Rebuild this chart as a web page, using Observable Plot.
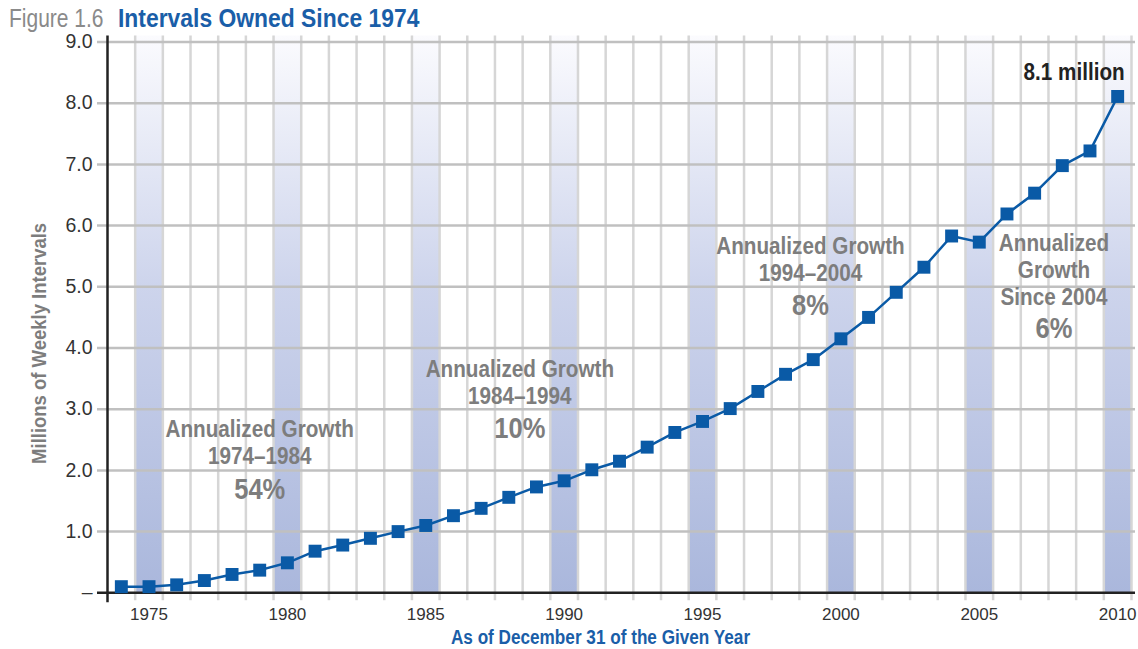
<!DOCTYPE html>
<html>
<head>
<meta charset="utf-8">
<script src="https://cdn.jsdelivr.net/npm/d3@7"></script>
<script src="https://cdn.jsdelivr.net/npm/@observablehq/plot@0.6"></script>
<style>
  body { margin: 0; background: #fff; }
  #title { height: 32px; position: relative; font-family: "Liberation Sans", Arial, sans-serif; white-space: nowrap; }
  #title span { position: absolute; line-height: 1; transform-origin: 0 0; }
  #title .fig { left: 9px; top: 6px; font-size: 25px; color: #8a8a8a; transform: scaleX(0.84); }
  #title .main { left: 118px; top: 5px; font-size: 26px; font-weight: bold; color: #1a5ea8; transform: scaleX(0.88); }
  #chart svg { display: block; }
</style>
</head>
<body>
<div id="title"><span class="fig">Figure 1.6</span><span class="main">Intervals Owned Since 1974</span></div>
<div id="chart"></div>
<script>
// ---- data ----
const years = [1974,1975,1976,1977,1978,1979,1980,1981,1982,1983,1984,1985,1986,1987,1988,1989,1990,1991,1992,1993,1994,1995,1996,1997,1998,1999,2000,2001,2002,2003,2004,2005,2006,2007,2008,2009,2010];
const intervals = [0.10,0.10,0.13,0.20,0.30,0.37,0.49,0.68,0.78,0.89,1.00,1.10,1.26,1.38,1.56,1.73,1.83,2.01,2.15,2.38,2.62,2.80,3.01,3.29,3.57,3.81,4.15,4.50,4.91,5.32,5.83,5.73,6.19,6.53,6.98,7.22,8.11];
const highlightYears = [1975,1980,1985,1990,1995,2000,2005,2010];
const xTicks = [1975,1980,1985,1990,1995,2000,2005,2010];
const yTicks = [0,1,2,3,4,5,6,7,8,9];
const annHeads = ["Annualized Growth\n1974–1984", "Annualized Growth\n1984–1994", "Annualized Growth\n1994–2004", "Annualized\nGrowth\nSince 2004"];
const annRates = ["54%", "10%", "8%", "6%"];
const annYear = [1979.0, 1988.4, 1998.9, 2007.7];
const annHeadValue = [2.46, 3.45, 5.45, 5.29];
const annRateValue = [1.69, 2.685, 4.69, 4.32];
const endLabel = "8.1 million";
const xTitle = "As of December 31 of the Given Year";
const yTitle = "Millions of Weekly Intervals";

// ---- tables built from the arrays ----
const series = years.map((y, i) => ({year: y, value: intervals[i]}));
const bands = highlightYears.map(y => ({x1: y - 0.5, x2: y + 0.5}));
const boundaries = years.map(y => y + 0.5);
const annotations = annHeads.map((t, i) => ({x: annYear[i], y: annHeadValue[i], text: t}));
const rates = annRates.map((t, i) => ({x: annYear[i], y: annRateValue[i], text: t}));

const FONT = '"Liberation Sans", Arial, sans-serif';
const BLUE = "#0a5aa6";
const GRAY_TXT = "#7d7d7d";

const gradientDefs = () => {
  const defs = d3.create("svg:defs");
  const g = defs.append("linearGradient").attr("id", "bandGrad")
    .attr("x1", 0).attr("y1", 0).attr("x2", 0).attr("y2", 1);
  g.append("stop").attr("offset", "0%").attr("stop-color", "#fbfbfe");
  g.append("stop").attr("offset", "45%").attr("stop-color", "#cdd4ec");
  g.append("stop").attr("offset", "100%").attr("stop-color", "#aab7dc");
  return defs.node();
};

const chart = Plot.plot({
  width: 1138,
  height: 617,
  marginTop: 9.5,
  marginLeft: 107,
  marginRight: 7,
  marginBottom: 56.7,
  style: {fontFamily: FONT, background: "#fff", overflow: "visible"},
  x: {type: "linear", domain: [1973.5, 2010.5]},
  y: {domain: [0, 9]},
  marks: [
    gradientDefs,
    Plot.rect(bands, {x1: "x1", x2: "x2", y1: 0, y2: 9, fill: "url(#bandGrad)", insetTop: -6}),
    Plot.ruleX(boundaries, {stroke: "#d6d6d6", strokeWidth: 2.5, insetTop: -6, insetBottom: -8}),
    Plot.ruleY(yTicks.filter(d => d > 0), {stroke: "#c0c0c0", strokeWidth: 2.5, insetLeft: -10, insetRight: -4}),
    Plot.ruleY([0], {stroke: "#222", strokeWidth: 2.5, insetLeft: -10, insetRight: -4}),
    Plot.ruleX([1973.5], {stroke: "#222", strokeWidth: 2.5, insetTop: -6, insetBottom: -10}),
    Plot.axisY({ticks: yTicks, tickSize: 0, tickPadding: 15, label: null, fontSize: 19.5, fill: "#333",
      tickFormat: d => d === 0 ? "–" : d.toFixed(1)}),
    Plot.axisX({ticks: xTicks, tickSize: 0, tickPadding: 15, label: null, fontSize: 17, fill: "#333",
      tickFormat: d => String(d)}),
    Plot.text(annotations, {x: "x", y: "y", text: "text", fill: GRAY_TXT, fontSize: 23.5, fontWeight: "bold", lineHeight: 1.15, textAnchor: "middle", lineAnchor: "middle"}),
    Plot.text(rates, {x: "x", y: "y", text: "text", fill: GRAY_TXT, fontSize: 29, fontWeight: "bold", textAnchor: "middle", lineAnchor: "middle"}),
    Plot.line(series, {x: "year", y: "value", stroke: BLUE, strokeWidth: 2.5}),
    Plot.dot(series, {x: "year", y: "value", symbol: "square", r: 7.3, fill: BLUE, stroke: "none"}),
    Plot.text([series[series.length - 1]], {x: "year", y: "value", text: () => endLabel, textAnchor: "end", lineAnchor: "middle", dx: 7, dy: -24, fontSize: 23.5, fontWeight: "bold", fill: "#222"}),
    Plot.text([xTitle], {frameAnchor: "bottom", textAnchor: "middle", lineAnchor: "bottom", dx: -19, dy: 51, fontSize: 19.5, fontWeight: "bold", fill: "#1a5ea8"}),
    Plot.text([yTitle], {frameAnchor: "left", textAnchor: "middle", rotate: -90, dx: -68, dy: 26, fontSize: 21, fontWeight: "bold", fill: GRAY_TXT})
  ]
});
document.getElementById("chart").appendChild(chart);

// condense the Arial-metric font toward the narrow face of the original
function condense(el, f) {
  const L = el.getComputedTextLength();
  if (L > 0) {
    el.setAttribute("textLength", (L * f).toFixed(2));
    el.setAttribute("lengthAdjust", "spacingAndGlyphs");
  }
}
chart.querySelectorAll("text").forEach(t => {
  const g = t.closest("g[aria-label]");
  const label = g ? g.getAttribute("aria-label") : "";
  if (label === "y-axis tick label" || label === "x-axis tick label") return;
  const tspans = t.querySelectorAll("tspan");
  if (tspans.length) tspans.forEach(s => condense(s, 0.88));
  else condense(t, 0.88);
});
</script>
</body>
</html>
